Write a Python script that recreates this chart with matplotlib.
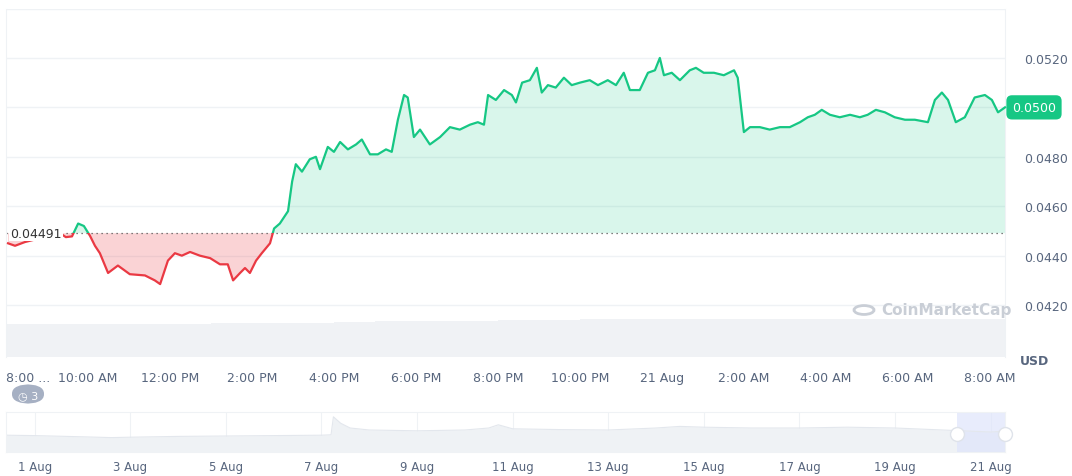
import numpy as np
import matplotlib.pyplot as plt
from matplotlib.patches import Rectangle, FancyBboxPatch, Circle

# price series, hours since 8:00 AM
hours = [0.05, 0.22, 0.46, 1.32, 1.46, 1.61, 1.76, 1.90, 2.05, 2.17, 2.29, 2.49, 2.73, 3.02, 3.39, 3.63,
         3.76, 3.95, 4.12, 4.29, 4.49, 4.73, 4.98, 5.22, 5.41, 5.54, 5.71, 5.83, 5.95, 6.10, 6.24, 6.44,
         6.54, 6.68, 6.88, 6.98, 7.07, 7.22, 7.41, 7.56, 7.66, 7.85, 8.00, 8.15, 8.34, 8.54, 8.68, 8.88,
         9.07, 9.27, 9.41, 9.56, 9.71, 9.80, 9.95, 10.10, 10.34, 10.59, 10.83, 11.07, 11.32, 11.51, 11.66,
         11.76, 11.95, 12.15, 12.34, 12.44, 12.59, 12.78, 12.95, 13.07, 13.22, 13.41, 13.61, 13.80, 14.00,
         14.24, 14.44, 14.68, 14.88, 15.07, 15.22, 15.46, 15.66, 15.83, 15.95, 16.05, 16.24, 16.44, 16.68,
         16.83, 17.02, 17.27, 17.51, 17.76, 17.85, 18.00, 18.15, 18.39, 18.63, 18.88, 19.12, 19.37, 19.56,
         19.73, 19.90, 20.10, 20.34, 20.59, 20.83, 21.02, 21.22, 21.44, 21.68, 21.93, 22.17, 22.49, 22.66,
         22.83, 22.98, 23.17, 23.39, 23.63, 23.88, 24.05, 24.20, 24.37]
prices = [0.04450, 0.04440, 0.04455, 0.04491, 0.04475, 0.04478, 0.04530, 0.04520, 0.04480, 0.04440,
          0.04410, 0.04330, 0.04360, 0.04325, 0.04320, 0.04300, 0.04285, 0.04380, 0.04410, 0.04400,
          0.04415, 0.04400, 0.04390, 0.04365, 0.04365, 0.04300, 0.04330, 0.04350, 0.04330, 0.04380,
          0.04410, 0.04450, 0.04510, 0.04530, 0.04580, 0.04700, 0.04770, 0.04740, 0.04790, 0.04800,
          0.04750, 0.04840, 0.04820, 0.04860, 0.04830, 0.04850, 0.04870, 0.04810, 0.04810, 0.04830,
          0.04820, 0.04950, 0.05050, 0.05040, 0.04880, 0.04910, 0.04850, 0.04880, 0.04920, 0.04910,
          0.04930, 0.04940, 0.04930, 0.05050, 0.05030, 0.05070, 0.05050, 0.05020, 0.05100, 0.05110,
          0.05160, 0.05060, 0.05090, 0.05080, 0.05120, 0.05090, 0.05100, 0.05110, 0.05090, 0.05110,
          0.05090, 0.05140, 0.05070, 0.05070, 0.05140, 0.05150, 0.05200, 0.05130, 0.05140, 0.05110,
          0.05150, 0.05160, 0.05140, 0.05140, 0.05130, 0.05150, 0.05120, 0.04900, 0.04920, 0.04920,
          0.04910, 0.04920, 0.04920, 0.04940, 0.04960, 0.04970, 0.04990, 0.04970, 0.04960, 0.04970,
          0.04960, 0.04970, 0.04990, 0.04980, 0.04960, 0.04950, 0.04950, 0.04940, 0.05030, 0.05060,
          0.05030, 0.04940, 0.04960, 0.05040, 0.05050, 0.05030, 0.04980, 0.05000]
baseline = 0.04491
last_price = 0.0500

vol_hours = [0.5, 1.5, 2.5, 3.5, 4.5, 5.5, 6.5, 7.5, 8.5, 9.5, 10.5, 11.5, 12.5, 13.5, 14.5, 15.5,
             16.5, 17.5, 18.5, 19.5, 20.5, 21.5, 22.5, 23.5, 24.2]
volumes = [0.82, 0.82, 0.82, 0.82, 0.82, 0.83, 0.83, 0.84, 0.86, 0.88, 0.89, 0.9, 0.91, 0.92, 0.93,
           0.93, 0.93, 0.93, 0.93, 0.93, 0.94, 0.95, 0.95, 0.95, 0.95]

x_tick_hours = [0, 2, 4, 6, 8, 10, 12, 14, 16, 18, 20, 22, 24]
x_tick_labels = ['8:00 ...', '10:00 AM', '12:00 PM', '2:00 PM', '4:00 PM', '6:00 PM', '8:00 PM',
                 '10:00 PM', '21 Aug', '2:00 AM', '4:00 AM', '6:00 AM', '8:00 AM']
y_ticks = [0.0420, 0.0440, 0.0460, 0.0480, 0.0500, 0.0520]

# navigator (days in August)
nav_days = [0.4, 1, 2, 2.6, 3, 4, 5, 6, 7, 7.2, 7.25, 7.4, 7.6, 8, 9, 10, 10.5, 10.7, 11, 12, 13,
            14, 14.5, 15, 16, 17, 18, 19, 20, 21, 21.3]
nav_vals = [0.42, 0.41, 0.38, 0.36, 0.37, 0.39, 0.40, 0.41, 0.42, 0.43, 0.88, 0.72, 0.60, 0.55,
            0.53, 0.55, 0.60, 0.68, 0.58, 0.56, 0.55, 0.60, 0.64, 0.62, 0.60, 0.60, 0.62, 0.60,
            0.55, 0.50, 0.52]
nav_ticks = [1, 3, 5, 7, 9, 11, 13, 15, 17, 19, 21]

fig = plt.figure(figsize=(10.72, 4.77), dpi=100)
W, H = 1072, 477
grey_text = '#58667e'
green, red = '#16c784', '#ea3943'

ax = fig.add_axes([6 / W, 1 - 358 / H, 999 / W, 348 / H])
ax.set_xlim(0, 24.37)
ax.set_ylim(0.03990, 0.05398)

# volume bars at the bottom
axv = ax.twinx()
axv.set_ylim(0, 8.6)
axv.bar(vol_hours, volumes, width=1.0, color='#f0f2f5', zorder=0)
axv.axis('off')
ax.set_zorder(axv.get_zorder() + 1)
ax.patch.set_visible(False)

for y in y_ticks + [0.05398]:
    ax.axhline(y, color='#eff2f5', lw=1, zorder=0)

t = np.array(hours)
p = np.array(prices)
ax.fill_between(t, p, baseline, where=p >= baseline, interpolate=True, color=green, alpha=0.16, lw=0)
ax.fill_between(t, p, baseline, where=p <= baseline, interpolate=True, color=red, alpha=0.22, lw=0)

up = Rectangle((0, baseline), 30, 1, transform=ax.transData)
dn = Rectangle((0, 0), 30, baseline, transform=ax.transData)
l1, = ax.plot(t, p, color=green, lw=1.6, zorder=3)
l1.set_clip_path(up)
l2, = ax.plot(t, p, color=red, lw=1.6, zorder=3)
l2.set_clip_path(dn)
ax.axhline(baseline, color='#555', lw=0.9, ls=(0, (1, 3)), zorder=2)
ax.text(0.1, baseline, '0.04491', fontsize=9, color='#333', va='center', ha='left',
        bbox=dict(facecolor='white', edgecolor='none', pad=1), zorder=4)

ax.set_xticks(x_tick_hours)
ax.set_xticklabels(x_tick_labels, fontsize=9, color=grey_text)
ax.get_xticklabels()[0].set_ha('left')
ax.tick_params(axis='x', length=0, pad=10)
ax.yaxis.tick_right()
ax.set_yticks(y_ticks)
ax.set_yticklabels(['' if v == last_price else f'{v:.4f}' for v in y_ticks], fontsize=9, color=grey_text)
ax.tick_params(axis='y', length=0, pad=14)
for s in ax.spines.values():
    s.set_visible(False)
for side in ('left', 'right'):
    ax.spines[side].set_visible(True)
    ax.spines[side].set_color('#eff2f5')

ax.text(1.015, -0.01, 'USD', transform=ax.transAxes, fontsize=9, color=grey_text,
        fontweight='bold', va='center', ha='left')
ax.text(1.007, (last_price - 0.03990) / (0.05398 - 0.03990), f'{last_price:.4f}',
        transform=ax.transAxes, fontsize=9, color='white', va='center', ha='left',
        bbox=dict(boxstyle='round,pad=0.45', facecolor=green, edgecolor='none'))
# watermark
fig.patches.append(Circle((864 / W, 1 - 311 / H), 10 / W, transform=fig.transFigure,
                          facecolor='none', edgecolor='#c9ced6', lw=2))
fig.text(881 / W, 1 - 311 / H, 'CoinMarketCap', fontsize=11, color='#c9ced6',
         va='center', ha='left', fontweight='bold')

# history badge
fig.patches.append(FancyBboxPatch((12 / W, 1 - 405 / H), 32 / W, 20 / H, boxstyle='round,pad=0,rounding_size=0.02',
                                  transform=fig.transFigure, facecolor='#a6b0c3', edgecolor='none'))
fig.text(28 / W, 1 - 396 / H, '◷ 3', fontsize=8, color='white', ha='center', va='center')

# navigator
axn = fig.add_axes([6 / W, 1 - 453 / H, 999 / W, 40 / H])
axn.set_xlim(0.4, 21.3)
axn.set_ylim(0, 1)
axn.fill_between(nav_days, nav_vals, 0, color='#eff2f5', lw=0)
axn.plot(nav_days, nav_vals, color='#e3e7ed', lw=0.8)
axn.axvspan(20.3, 21.3, color='#dfe5fb', alpha=0.7, lw=0)
for d in nav_ticks:
    axn.axvline(d, color='#eff2f5', lw=0.8, zorder=0)
for xd in (20.3, 21.3):
    axn.plot([xd], [0.45], marker='o', ms=10, mfc='white', mec='#dfe3ea', zorder=5, clip_on=False)
axn.set_xticks(nav_ticks)
axn.set_xticklabels([f'{d} Aug' for d in nav_ticks], fontsize=8.5, color=grey_text)
axn.tick_params(axis='x', length=0, pad=6)
axn.set_yticks([])
for s in axn.spines.values():
    s.set_color('#eff2f5')

fig.savefig('out.png', dpi=100)
